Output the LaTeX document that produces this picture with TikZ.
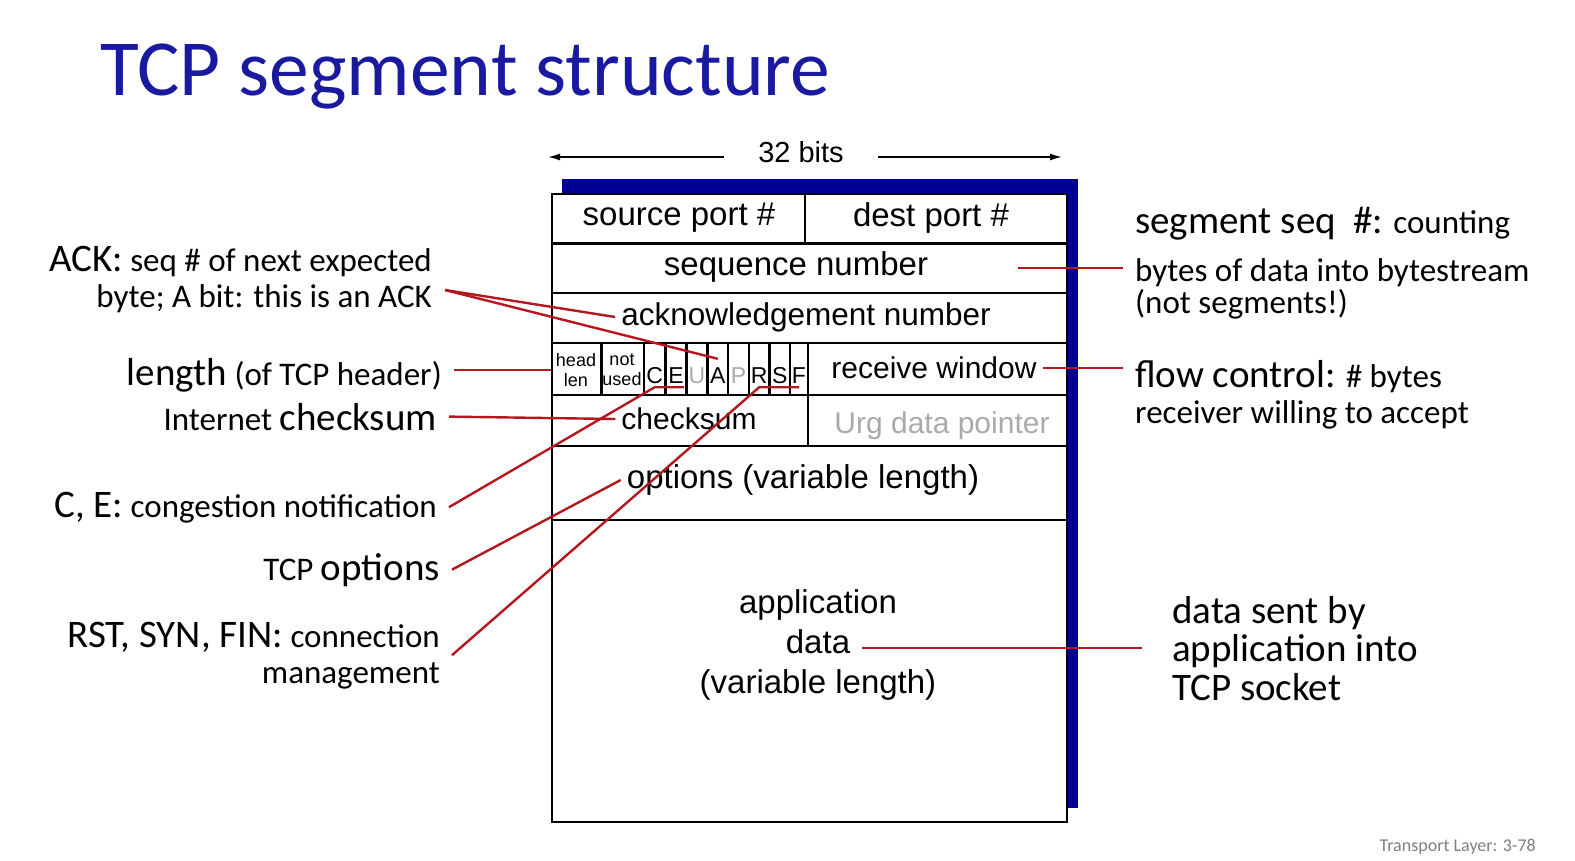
\documentclass[tikz,border=0pt]{standalone}
\usepackage{fontspec}
\setmainfont{Carlito}
\newfontfamily\boxfont{Liberation Sans}
\usetikzlibrary{positioning,
        arrows.meta,
        calc}
\usepackage{xcolor}

\definecolor{titleblue}{RGB}{26,26,160}
\definecolor{shadowblue}{RGB}{0,0,150}
\definecolor{leadred}{RGB}{178,24,28}
\definecolor{bitgray}{RGB}{170,170,170}
\definecolor{footgray}{RGB}{128,128,128}

\newcommand{\bigsz}{\fontsize{39}{44}\selectfont}
\newcommand{\smallsz}{\fontsize{33}{36}\selectfont}

\begin{document}
\begin{tikzpicture}[x=1pt,y=-1pt,
    field/.style={font=\boxfont\fontsize{#1}{40}\selectfont, inner sep=6pt},
    field/.default=33,
    smallfield/.style={font=\boxfont\fontsize{18}{20}\selectfont, inner sep=1pt, align=center},
    flagbit/.style={font=\boxfont\fontsize{23}{26}\selectfont, inner sep=0pt, text height=24pt, text depth=4pt, anchor=base},
    note/.style={font=\smallsz, inner xsep=12pt, inner ysep=2pt},
    leader/.style={draw=leadred, line width=2.4pt},
    boxline/.style={line width=2.2pt},
    bitarrow/.style={-{Latex[length=12pt,width=7pt]}, line width=1.6pt}]
    \useasboundingbox (0,0) rectangle (1575,860);

    \node [anchor=base west, font=\fontsize{79.5}{80}\selectfont, text=titleblue, inner sep=0pt] (title) at (100,95) {TCP segment structure};

    % width of a row
    \node [font=\boxfont\fontsize{29}{32}\selectfont, anchor=base, inner xsep=34pt] (bits) at (801,162) {32 bits};
    \coordinate (bitsL) at (548,157);
    \coordinate (bitsR) at (1062,157);
    \draw [bitarrow] (bitsL -| bits.west) -- (bitsL);
    \draw [bitarrow] (bitsR -| bits.east) -- (bitsR);

    % segment box with its shadow
    \fill [shadowblue] (562,179) rectangle (1078,808);
    \node [boxline, draw, fill=white, minimum width=515pt, minimum height=628pt, inner sep=0pt] (segbox) at (809.5,508) {};
    \foreach \y in {243.5,293,343,395,446,520}
        \draw [boxline] (552,\y) -- (1067,\y);
    \draw [boxline] (805,194) -- (805,243.5);
    \foreach \x in {601.5,644,665.5,686.5,707.5,728,749,769.5,790,808}
        \draw [boxline] (\x,343) -- (\x,395);
    \draw [boxline] (808,395) -- (808,446);

    \node [field] (srcport) at (679,218) {source port \#};
    \node [field] (dstport) at (931,218) {dest port \#};
    \node [field] (seqnum) at (796,267) {sequence number};
    \node [field=31.5] (acknum) at (806,317) {acknowledgement number};
    \node [smallfield] (headlen) at (576,370) {head\\len};
    \node [smallfield] (notused) at (622,370) {not\\used};
    \node [flagbit] (fC) at (654.75,383) {C};
    \node [flagbit] (fE) at (676,383) {E};
    \node [flagbit, text=bitgray] (fU) at (697,383) {U};
    \node [flagbit] (fA) at (717.75,383) {A};
    \node [flagbit, text=bitgray] (fP) at (738.5,383) {P};
    \node [flagbit] (fR) at (759.25,383) {R};
    \node [flagbit] (fS) at (779.75,383) {S};
    \node [flagbit] (fF) at (799,383) {F};
    \node [field=30] (rwnd) at (934,368) {receive window};
    \node [field=30] (csum) at (689,419) {checksum};
    \node [field=30, text=bitgray, anchor=base] (urg) at (942,433) {Urg data pointer};
    \node [field] (opts) at (803,480) {options (variable length)};
    \node [field, align=center] (appdata) at (818,645) {application\\data\\(variable length)};

    % notes on the left
    \node [note, anchor=base east, align=right] (lack) at (444,307) {{\bigsz ACK:} seq \# of next expected\\byte; A bit: this is an ACK};
    \node [note, anchor=base east] (llen) at (454,385) {{\bigsz length} (of TCP header)};
    \node [note, anchor=base east] (lcsum) at (449,430) {Internet {\bigsz checksum}};
    \node [note, anchor=base east] (lce) at (449,517) {{\bigsz C, E:} congestion notification};
    \node [note, anchor=base east] (lopts) at (452,580) {TCP {\bigsz options}};
    \node [note, anchor=base east, align=right] (lrsf) at (452,683) {{\bigsz RST, SYN, FIN:} connection\\management};

    % notes on the right
    \node [note, anchor=base west, align=left, font=\fontsize{33}{32}\selectfont] (rseq) at (1123,313) {{\bigsz segment seq\ \ \#:} counting\\[16pt]bytes of data into bytestream\\(not segments!)};
    \node [note, anchor=base west, align=left] (rflow) at (1123,423) {{\bigsz flow control:} \# bytes\\receiver willing to accept};
    \node [note, anchor=base west, align=left, font=\fontsize{39}{38.5}\selectfont, inner xsep=30pt] (rdata) at (1142,700) {data sent by\\application into\\TCP socket};

    \node [anchor=base east, font=\fontsize{18}{20}\selectfont, text=footgray, inner sep=0pt] (footer) at (1536,851) {Transport Layer: 3-78};

    % leaders
    \coordinate (ackfoot) at ($(lack.base east)+(1,-17)$);
    \coordinate (seqtip) at (1018,268);
    \coordinate (datatip) at (862,648);
    \draw [leader] (ackfoot) -- (acknum.west);
    \draw [leader] (ackfoot) -- (fA.north);
    \draw [leader] (headlen.west -| llen.east) -- (headlen.west -| segbox.west);
    \draw [leader] (lcsum.east) -- (csum.west);
    \draw [leader] (lce.east) -- (fC.south) -- (fE.south east);
    \draw [leader] (lopts.east) -- (opts.west);
    \draw [leader] (lrsf.east) -- (fR.south) -- (fF.south);
    \draw [leader] (seqtip) -- (seqtip -| rseq.west);
    \draw [leader] (rwnd.east) -- (rwnd.east -| rflow.west);
    \draw [leader] (datatip) -- (datatip -| rdata.west);
\end{tikzpicture}
\end{document}
